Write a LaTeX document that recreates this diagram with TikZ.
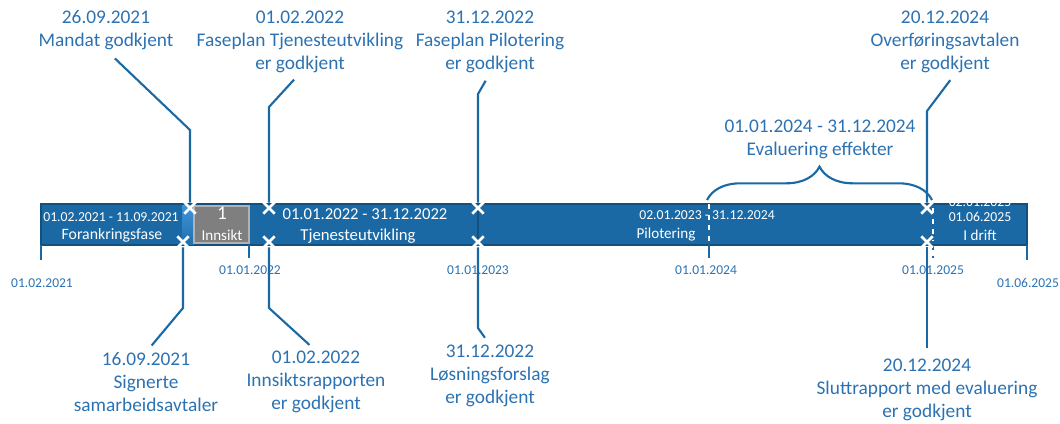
\documentclass[tikz,border=0pt]{standalone}
\usepackage{fontspec}
\setmainfont{Carlito}
\usetikzlibrary{decorations.pathreplacing,shapes.misc}

\definecolor{barblue}{HTML}{1B69A4}
\definecolor{baredge}{HTML}{14507E}
\definecolor{labelblue}{HTML}{2C72B2}
\definecolor{innsiktgray}{HTML}{7F7F7F}
\definecolor{stripblue}{HTML}{3E95DC}

\tikzset{
  milestone/.style={text=labelblue, align=center, inner sep=0pt, font=\fontsize{11}{13}\selectfont},
  datelabel/.style={text=labelblue, inner sep=0pt, font=\fontsize{7.7}{9}\selectfont},
  leader/.style={draw=barblue, line width=1.2pt},
  phasetext/.style={text=white, inner sep=0pt, font=\fontsize{8.6}{10}\selectfont},
  phasedate/.style={text=white, inner sep=0pt, font=\fontsize{7.8}{9}\selectfont},
  crossmark/.style={cross out, draw=white, line width=1.5pt, inner sep=0pt, minimum size=5pt},
}

\begin{document}
\begin{tikzpicture}[x=0.02cm, y=-0.02cm]
\useasboundingbox (0,0) rectangle (1060,423);

% the bar
\fill[barblue] (41,204) rectangle (1027,245);
\draw[baredge, line width=0.6pt] (41,204) rectangle (1027,245);
\shade[top color=stripblue, bottom color=barblue!85!stripblue] (182,205) rectangle (194,244);
\fill[innsiktgray] (194,206) rectangle (249,243);
\draw[gray!60, line width=0.6pt] (194,206) rectangle (249,243);
\draw[baredge, line width=1pt] (478,204) -- (478,245);
\draw[white, dashed, line width=1.2pt] (709,204) -- (709,245);
\draw[white, dashed, line width=1.2pt] (933,208) -- (933,241);

% ticks
\draw[barblue, line width=1.2pt] (41,245) -- (41,260);
\draw[barblue, line width=1.2pt] (249,245) -- (249,258);
\draw[barblue, line width=1.2pt] (709,245) -- (709,258);
\draw[barblue, dashed, line width=1.2pt] (933,245) -- (933,258);
\draw[barblue, line width=1.2pt] (1027,245) -- (1027,260);

\node[datelabel] (d2021) at (42,283) {01.02.2021};
\node[datelabel] (d2022) at (250,270) {01.01.2022};
\node[datelabel] (d2023) at (478,270) {01.01.2023};
\node[datelabel] (d2024) at (706,270) {01.01.2024};
\node[datelabel] (d2025) at (933,270) {01.01.2025};
\node[datelabel] (dend) at (1028,283) {01.06.2025};

% phases
\node[phasedate] (forankdate) at (111,217) {01.02.2021 - 11.09.2021};
\node[phasetext, font=\fontsize{9}{11}\selectfont] (forank) at (112,235) {Forankringsfase};
\node[phasedate] (innsiktfrom) at (222,146) {02.10.202};
\node[phasedate] (innsiktdash) at (222,169) {1};
\node[phasedate] (innsiktto) at (222,190) {31.12.202};
\node[phasetext, font=\fontsize{11}{13}\selectfont] (innsiktnr) at (222,213) {1};
\node[phasetext] (innsikt) at (222,235) {Innsikt};
\node[phasetext, font=\fontsize{9.5}{11}\selectfont] (tjenestedate) at (365,214) {01.01.2022 - 31.12.2022};
\node[phasetext, font=\fontsize{9.5}{11}\selectfont] (tjeneste) at (358,236) {Tjenesteutvikling};
\node[phasedate] (pilotdate) at (707,215) {02.01.2023 - 31.12.2024};
\node[phasetext] (pilot) at (666,235) {Pilotering};
\node[phasedate] (driftfrom) at (980,202) {02.01.2025};
\node[phasedate] (driftdate) at (980,217) {01.06.2025};
\node[phasetext] (drift) at (980,235) {I drift};
\node[phasedate] (realisering) at (980,253) {(realisering)};

% evaluering
\draw[barblue, line width=1.2pt, decorate, decoration={brace, amplitude=19pt}] (707,200) -- (932,200);
\node[milestone] (eval) at (820,139) {01.01.2024 - 31.12.2024\\Evaluering effekter};

% milestones above
\node[milestone] (mandat) at (106,30) {26.09.2021\\Mandat godkjent};
\node[milestone] (fptjeneste) at (300,42) {01.02.2022\\Faseplan Tjenesteutvikling\\er godkjent};
\node[milestone] (fppilot) at (490,42) {31.12.2022\\Faseplan Pilotering\\er godkjent};
\node[milestone] (overforing) at (945,42) {20.12.2024\\Overføringsavtalen\\er godkjent};

\coordinate (mandatbend) at (190,130);
\coordinate (fptjenestebend) at (269,107);
\coordinate (fppilotbend) at (478,94);
\coordinate (overforingbend) at (927,111);

\node[crossmark] (mandatx) at (190,208) {};
\node[crossmark] (fptjenestex) at (269,208) {};
\node[crossmark] (fppilotx) at (478,208) {};
\node[crossmark] (overforingx) at (927,208) {};

\draw[leader, shorten <=7pt, shorten >=3pt] (mandat.south) -- (mandatbend) -- (mandatx.center);
\draw[leader, shorten <=5pt, shorten >=3pt] (fptjeneste.south) -- (fptjenestebend) -- (fptjenestex.center);
\draw[leader, shorten <=5pt, shorten >=3pt] (fppilot.south) -- (fppilotbend) -- (fppilotx.center);
\draw[leader, shorten <=5pt, shorten >=3pt] ([xshift=6pt]overforing.south) -- (overforingbend) -- (overforingx.center);

% milestones below
\node[milestone] (signert) at (146,382) {16.09.2021\\Signerte\\samarbeidsavtaler};
\node[milestone] (innsiktrap) at (316,382) {01.02.2022\\Innsiktsrapporten\\er godkjent};
\node[milestone] (losning) at (490,376) {31.12.2022\\Løsningsforslag\\er godkjent};
\node[milestone] (slutt) at (927,390) {20.12.2024\\Sluttrapport med evaluering\\er godkjent};

\coordinate (signertbend) at (183,308);
\coordinate (innsiktrapbend) at (269,308);
\coordinate (losningbend) at (478,328);

\node[crossmark] (signertx) at (183,242) {};
\node[crossmark] (innsiktrapx) at (269,242) {};
\node[crossmark] (losningx) at (478,242) {};
\node[crossmark] (sluttx) at (927,242) {};

\draw[leader, shorten <=3pt, shorten >=5pt] (signertx.center) -- (signertbend) -- (signert.north);
\draw[leader, shorten <=3pt, shorten >=5pt] (innsiktrapx.center) -- (innsiktrapbend) -- (innsiktrap.north);
\draw[leader, shorten <=3pt, shorten >=5pt] (losningx.center) -- (losningbend) -- (losning.north);
\draw[leader, shorten <=3pt, shorten >=6pt] (sluttx.center) -- (slutt.north);
\end{tikzpicture}
\end{document}
